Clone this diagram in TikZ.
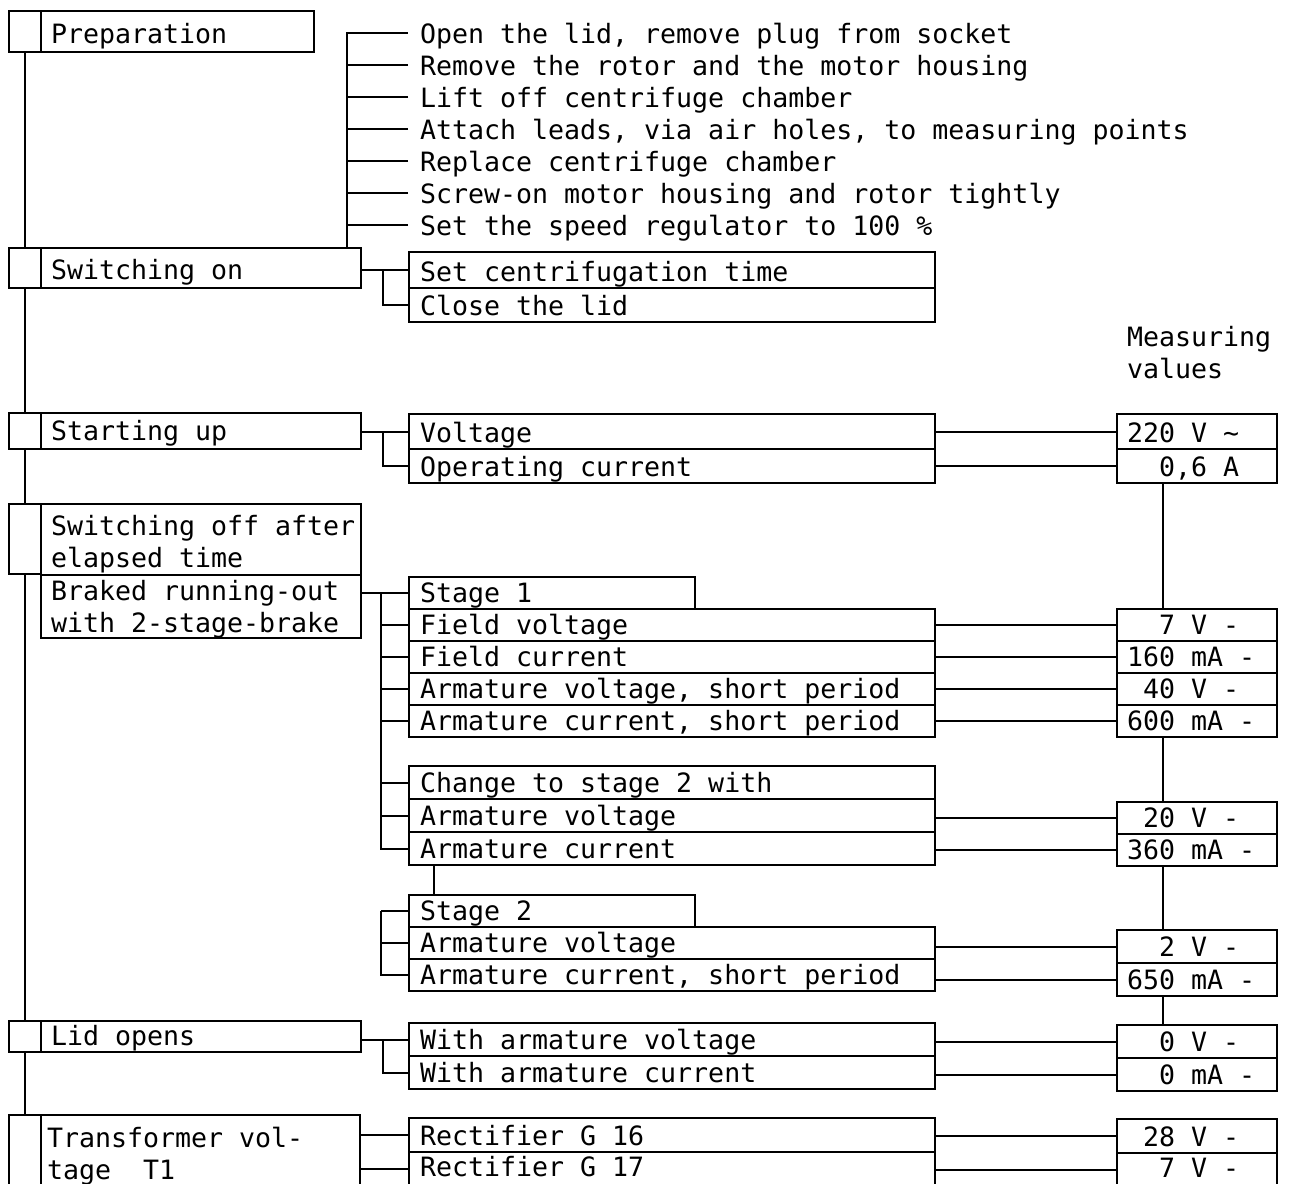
\documentclass[tikz,border=0pt]{standalone}
\usepackage{fontspec}
\newfontfamily\typer{DejaVu Sans Mono}
\usetikzlibrary{calc}
\tikzset{every node/.style={font=\typer\fontsize{26.6}{32}\selectfont,outer sep=0pt,inner ysep=0pt},
 phasesq/.style={draw,anchor=north west,minimum width=32pt,minimum height=#1},
 phase/.style={draw,anchor=north west,align=flush left,inner xsep=10pt,text width=300pt,text depth=9pt,text height=#1},
 task/.style={draw,anchor=north west,align=flush left,inner xsep=11pt,text width=504pt,text depth=7pt,text height=#1},
 stagebox/.style={task=#1,text width=264pt},
 meas/.style={draw,anchor=north west,align=flush left,inner xsep=10pt,text width=140pt,text depth=7pt,text height=#1},
 prepitem/.style={anchor=west,inner xsep=12pt,text height=20pt,text depth=0pt}}

\begin{document}
\begin{tikzpicture}[x=1pt,y=-1pt,line width=2pt]
\useasboundingbox (0,0) rectangle (1290,1183);
\clip (0,0) rectangle (1290,1183);
% phases
\node[phasesq=41pt] (sq1) at (9,11) {};
\node[phase=32pt,text width=253pt] (prep) at (41,11) {Preparation};
\node[phasesq=40pt] (sq2) at (9,248) {};
\node[phase=31pt] (swon) at (41,248) {Switching on};
\node[phasesq=36pt] (sq3) at (9,413) {};
\node[phase=27pt] (start) at (41,413) {Starting up};
\node[phasesq=70pt] (sq4) at (9,504) {};
\node[phase=31pt,text depth=40pt] (off) at (41,504) {\mbox{Switching off after}\\elapsed time};
\node[phase=25pt,text depth=38pt] (brake) at (off.south west) {\mbox{Braked running-out}\\\mbox{with 2-stage-brake}};
\node[phasesq=31pt] (sq5) at (9,1021) {};
\node[phase=24pt,text depth=7pt] (lid) at (41,1021) {Lid opens};
\node[phasesq=70pt] (sq6) at (9,1115) {};
\node[phase=32pt,text depth=38pt,inner xsep=6pt,text width=307pt] (trafo) at (41,1115) {Transformer vol-\\tage~~T1};
\draw (sq1.south) -- (sq2.north);
\draw (sq2.south) -- (sq3.north);
\draw (sq3.south) -- (sq4.north);
\draw (sq4.south) -- (sq5.north);
\draw (sq5.south) -- (sq6.north);
% preparation steps
\node[prepitem] (p1) at (408,33) {Open the lid, remove plug from socket};
\node[prepitem] (p2) at (408,65) {Remove the rotor and the motor housing};
\node[prepitem] (p3) at (408,97) {Lift off centrifuge chamber};
\node[prepitem] (p4) at (408,129) {Attach leads, via air holes, to measuring points};
\node[prepitem] (p5) at (408,161) {Replace centrifuge chamber};
\node[prepitem] (p6) at (408,193) {Screw-on motor housing and rotor tightly};
\node[prepitem] (p7) at (408,225) {Set the speed regulator to 100 \%};
\coordinate (pbus) at (347,248);
\draw (pbus) |- (p1.west);
\draw (p2.west) -- (p2.west -| pbus);
\draw (p3.west) -- (p3.west -| pbus);
\draw (p4.west) -- (p4.west -| pbus);
\draw (p5.west) -- (p5.west -| pbus);
\draw (p6.west) -- (p6.west -| pbus);
\draw (p7.west) -- (p7.west -| pbus);
% tasks
\node[task=29pt] (settime) at (409,252) {Set centrifugation time};
\node[task=27pt] (close) at (settime.south west) {Close the lid};
\node[task=28pt] (volt) at (409,414) {Voltage};
\node[task=27pt] (opcur) at (volt.south west) {Operating current};
\node[stagebox=25pt] (stg1) at (409,577) {Stage 1};
\node[task=25pt] (fvolt) at (stg1.south west) {Field voltage};
\node[task=25pt] (fcur) at (fvolt.south west) {Field current};
\node[task=25pt] (avolt) at (fcur.south west) {Armature voltage, short period};
\node[task=25pt] (acur) at (avolt.south west) {Armature current, short period};
\node[task=26pt] (chg) at (409,766) {Change to stage 2 with};
\node[task=26pt] (cvolt) at (chg.south west) {Armature voltage};
\node[task=26pt] (ccur) at (cvolt.south west) {Armature current};
\node[stagebox=25pt] (stg2) at (409,895) {Stage 2};
\node[task=25pt] (svolt) at (stg2.south west) {Armature voltage};
\node[task=25pt] (scur) at (svolt.south west) {Armature current, short period};
\node[task=26pt] (wvolt) at (409,1023) {With armature voltage};
\node[task=26pt] (wcur) at (wvolt.south west) {With armature current};
\node[task=27pt] (rect16) at (409,1118) {Rectifier G 16};
\node[task=24pt,text depth=10pt] (rect17) at (rect16.south west) {Rectifier G 17};
% brackets
\draw (settime.west -| swon.east) -- (settime.west) ([xshift=-26pt]settime.west) |- (close.west);
\draw (volt.west -| start.east) -- (volt.west) ([xshift=-26pt]volt.west) |- (opcur.west);
\coordinate (bus1) at ([xshift=-28pt]stg1.west);
\draw (stg1.west -| brake.east) -- (stg1.west);
\draw (bus1) |- (ccur.west);
\draw (fvolt.west) -- (fvolt.west -| bus1);
\draw (fcur.west) -- (fcur.west -| bus1);
\draw (avolt.west) -- (avolt.west -| bus1);
\draw (acur.west) -- (acur.west -| bus1);
\draw (chg.west) -- (chg.west -| bus1);
\draw (cvolt.west) -- (cvolt.west -| bus1);
\draw ([xshift=25pt]ccur.south west) -- ([xshift=25pt]stg2.north west);
\coordinate (bus2) at ([xshift=-28pt]stg2.west);
\draw (bus2) -- (stg2.west);
\draw (bus2) |- (scur.west);
\draw (svolt.west) -- (svolt.west -| bus2);
\draw (wvolt.west -| lid.east) -- (wvolt.west) ([xshift=-26pt]wvolt.west) |- (wcur.west);
\draw (rect16.west -| trafo.east) -- (rect16.west);
\draw (rect17.west -| trafo.east) -- (rect17.west);
% measuring values
\node[anchor=base west,align=left,text width=160pt,inner xsep=0pt] (mhead) at (1127,346) {Measuring\\values};
\node[meas=28pt] (v220) at (1117,414) {220 V \textasciitilde};
\node[meas=27pt] (v06) at (v220.south west) {\hphantom{00}0,6 A};
\node[meas=25pt] (v7) at (1117,609) {\hphantom{00}7 V -};
\node[meas=25pt] (v160) at (v7.south west) {160 mA -};
\node[meas=25pt] (v40) at (v160.south west) {\hphantom{0}40 V -};
\node[meas=25pt] (v600) at (v40.south west) {600 mA -};
\node[meas=25pt] (v20) at (1117,802) {\hphantom{0}20 V -};
\node[meas=25pt] (v360) at (v20.south west) {360 mA -};
\node[meas=26pt] (v2) at (1117,930) {\hphantom{00}2 V -};
\node[meas=26pt] (v650) at (v2.south west) {650 mA -};
\node[meas=26pt] (v0) at (1117,1025) {\hphantom{00}0 V -};
\node[meas=26pt] (v0ma) at (v0.south west) {\hphantom{00}0 mA -};
\node[meas=27pt] (v28) at (1117,1119) {\hphantom{0}28 V -};
\node[meas=24pt,text depth=10pt] (v7b) at (v28.south west) {\hphantom{00}7 V -};
\draw (v220.west) -- (v220.west -| volt.east);
\draw (v06.west) -- (v06.west -| opcur.east);
\draw (v7.west) -- (v7.west -| fvolt.east);
\draw (v160.west) -- (v160.west -| fcur.east);
\draw (v40.west) -- (v40.west -| avolt.east);
\draw (v600.west) -- (v600.west -| acur.east);
\draw (v20.west) -- (v20.west -| cvolt.east);
\draw (v360.west) -- (v360.west -| ccur.east);
\draw (v2.west) -- (v2.west -| svolt.east);
\draw (v650.west) -- (v650.west -| scur.east);
\draw (v0.west) -- (v0.west -| wvolt.east);
\draw (v0ma.west) -- (v0ma.west -| wcur.east);
\draw (v28.west) -- (v28.west -| rect16.east);
\draw (v7b.west) -- (v7b.west -| rect17.east);
\draw ([xshift=46pt]v06.south west) -- ([xshift=46pt]v7.north west);
\draw ([xshift=46pt]v600.south west) -- ([xshift=46pt]v20.north west);
\draw ([xshift=46pt]v360.south west) -- ([xshift=46pt]v2.north west);
\draw ([xshift=46pt]v650.south west) -- ([xshift=46pt]v0.north west);
\end{tikzpicture}
\end{document}
